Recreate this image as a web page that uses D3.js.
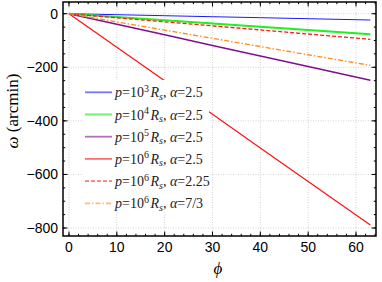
<!DOCTYPE html>
<html>
<head>
<meta charset="utf-8">
<script src="https://cdn.jsdelivr.net/npm/d3@7"></script>
<style>
  body { margin: 0; background: #fff; }
  svg { display: block; }
</style>
</head>
<body>
<script>
// phi values sampled along each (straight) curve
const phiVals = [0, 10, 20, 30, 40, 50, 63];

const omegaP3 = [0, -3.7, -7.5, -11.2, -14.9, -18.7, -23.5];
const omegaP4 = [0, -12.2, -24.4, -36.7, -48.9, -61.1, -77];
const omegaP5 = [0, -39.4, -78.9, -118.3, -157.8, -197.2, -248.5];
const omegaP6 = [0, -125.2, -250.4, -375.7, -500.9, -626.1, -789];
const omegaP6a225 = [0, -15.2, -30.3, -45.5, -60.6, -75.8, -95.5];
const omegaP6a73 = [0, -30.6, -61.3, -91.9, -122.5, -153.2, -193];

const legendExp = ["3", "4", "5", "6", "6", "6"];
const legendAlpha = ["2.5", "2.5", "2.5", "2.5", "2.25", "7/3"];

const xTicks = [0, 10, 20, 30, 40, 50, 60];
const yTicks = [0, -200, -400, -600, -800];

const svgWidth = 382;
const svgHeight = 282;
const frame = {left: 63, right: 376, top: 2, bottom: 236};

const series = [
    {vals: omegaP3, color: "#1a1aff", width: 1, dash: null},
    {vals: omegaP4, color: "#22ee22", width: 2, dash: null},
    {vals: omegaP5, color: "#800f8f", width: 1.5, dash: null},
    {vals: omegaP6, color: "#ff1010", width: 1.2, dash: null},
    {vals: omegaP6a225, color: "#ff1a1a", width: 1.3, dash: "4,2"},
    {vals: omegaP6a73, color: "#ff8c1a", width: 1.3, dash: "5,2,1.5,2"}
];

const svg = d3.select("body").append("svg")
    .attr("width", svgWidth)
    .attr("height", svgHeight);

const scaleX = d3.scaleLinear().domain([-1.25, 64.18]).range([frame.left, frame.right]);
const scaleY = d3.scaleLinear().domain([43.7, -829.8]).range([frame.top, frame.bottom]);

// grid
const grid = svg.append("g")
    .attr("stroke", "#c8c8c8")
    .attr("stroke-width", 0.8)
    .attr("stroke-dasharray", "1,1.5");
grid.selectAll(".gx").data(xTicks).join("line")
    .attr("x1", d => scaleX(d)).attr("x2", d => scaleX(d))
    .attr("y1", frame.top).attr("y2", frame.bottom);
grid.selectAll(".gy").data(yTicks).join("line")
    .attr("y1", d => scaleY(d)).attr("y2", d => scaleY(d))
    .attr("x1", frame.left).attr("x2", frame.right);

// curves
const line = d3.line()
    .x((d, i) => scaleX(phiVals[i]))
    .y(d => scaleY(d));

const defs = svg.append("defs");
defs.append("clipPath").attr("id", "clip")
    .append("rect")
    .attr("x", frame.left).attr("y", frame.top)
    .attr("width", frame.right - frame.left).attr("height", frame.bottom - frame.top);

svg.append("g").attr("clip-path", "url(#clip)")
    .selectAll("path")
    .data(series)
    .join("path")
    .attr("d", d => line(d.vals))
    .attr("fill", "none")
    .attr("stroke", d => d.color)
    .attr("stroke-width", d => d.width)
    .attr("stroke-dasharray", d => d.dash);

// ticks (inside the frame, all four sides)
const xMinor = d3.range(0, 65, 2);
const yMinor = d3.range(0, -830, -50);
const tickG = svg.append("g").attr("stroke", "#000").attr("stroke-width", 1);
const addTicks = (vals, len, horiz) => {
    vals.forEach(v => {
        if (horiz) {
            const x = scaleX(v);
            tickG.append("line").attr("x1", x).attr("x2", x).attr("y1", frame.bottom).attr("y2", frame.bottom - len);
            tickG.append("line").attr("x1", x).attr("x2", x).attr("y1", frame.top).attr("y2", frame.top + len);
        } else {
            const y = scaleY(v);
            tickG.append("line").attr("y1", y).attr("y2", y).attr("x1", frame.left).attr("x2", frame.left + len);
            tickG.append("line").attr("y1", y).attr("y2", y).attr("x1", frame.right).attr("x2", frame.right - len);
        }
    });
};
addTicks(xMinor, 2.2, true);
addTicks(xTicks, 4.5, true);
addTicks(yMinor, 2.2, false);
addTicks(yTicks, 4.5, false);

// frame
svg.append("rect")
    .attr("x", frame.left).attr("y", frame.top)
    .attr("width", frame.right - frame.left).attr("height", frame.bottom - frame.top)
    .attr("fill", "none").attr("stroke", "#000").attr("stroke-width", 1.5);

// tick labels
const tickFont = "'Liberation Sans', Arial, sans-serif";
svg.append("g").selectAll("text").data(xTicks).join("text")
    .attr("x", d => scaleX(d)).attr("y", 252)
    .attr("text-anchor", "middle")
    .style("font-family", tickFont).style("font-size", "14px")
    .text(d => d);
svg.append("g").selectAll("text").data(yTicks).join("text")
    .attr("x", 58).attr("y", d => scaleY(d))
    .attr("text-anchor", "end").attr("dominant-baseline", "central")
    .style("font-family", tickFont).style("font-size", "14px")
    .text(d => d < 0 ? "\u2212" + Math.abs(d) : d);

// axis labels
const serif = "'Liberation Serif', 'Times New Roman', serif";
svg.append("text")
    .attr("x", 218).attr("y", 274)
    .attr("text-anchor", "middle")
    .style("font-family", serif).style("font-size", "17px").style("font-style", "italic")
    .text("\u03d5");
const yl = svg.append("text")
    .attr("transform", "translate(18, 111) rotate(-90)")
    .attr("text-anchor", "middle")
    .style("font-family", serif).style("font-size", "17px");
yl.append("tspan").style("font-style", "italic").text("\u03c9");
yl.append("tspan").text(" (arcmin)");

// legend
const legend = svg.append("g");
legend.append("rect")
    .attr("x", 83).attr("y", 80).attr("width", 126).attr("height", 132)
    .attr("fill", "#fff");
const rowY = i => 92.3 + i * 22.2;
legend.selectAll("line").data(series).join("line")
    .attr("x1", 85).attr("x2", 112)
    .attr("y1", (d, i) => rowY(i)).attr("y2", (d, i) => rowY(i))
    .attr("stroke", d => d.color)
    .attr("stroke-opacity", 0.6)
    .attr("stroke-width", d => Math.max(d.width, 1.5) + 0.3)
    .attr("stroke-dasharray", d => d.dash);

series.forEach((s, i) => {
    const t = legend.append("text")
        .attr("x", 115).attr("y", rowY(i) + 5)
        .style("font-family", serif).style("font-size", "14px").attr("fill", "#222");
    t.append("tspan").style("font-style", "italic").text("p");
    t.append("tspan").text("=10");
    t.append("tspan").attr("dy", -5.5).style("font-size", "10px").text(legendExp[i]);
    t.append("tspan").attr("dy", 5.5).attr("dx", 1.5).style("font-style", "italic").text("R");
    t.append("tspan").attr("dy", 2.5).style("font-size", "10px").style("font-style", "italic").text("s");
    t.append("tspan").attr("dy", -2.5).text(", ");
    t.append("tspan").style("font-style", "italic").text("\u03b1");
    t.append("tspan").text("=" + legendAlpha[i]);
});
</script>
</body>
</html>
